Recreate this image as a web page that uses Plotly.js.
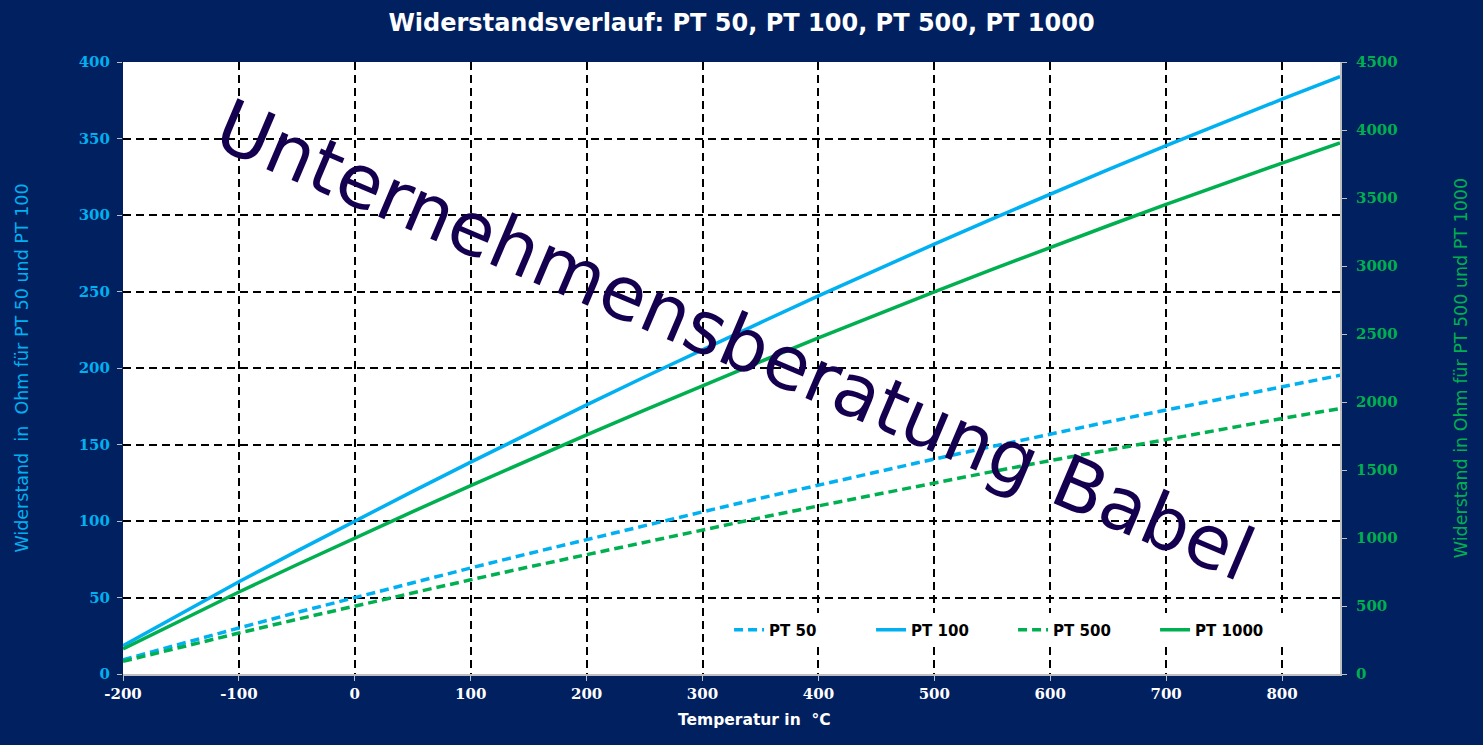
<!DOCTYPE html>
<html><head><meta charset="utf-8">
<script src="https://cdn.plot.ly/plotly-3.0.1.min.js"></script>
<style>html,body{margin:0;padding:0;background:#00205f;}#chart{width:1483px;height:745px;}</style>
</head><body><div id="chart"></div>
<script>
const temperatur = [-200,-150,-100,-50,0,50,100,150,200,250,300,350,400,450,500,550,600,650,700,750,800,850];
const pt50  = [9.3,19.9,30.1,40.2,50.0,59.7,69.3,78.7,87.9,97.1,106.0,114.9,123.5,132.1,140.5,148.7,156.9,164.8,172.6,180.3,187.9,195.2];
const pt100 = [18.5,39.7,60.3,80.3,100.0,119.4,138.5,157.3,175.9,194.1,212.1,229.7,247.1,264.2,281.0,297.5,313.7,329.6,345.3,360.6,375.7,390.5];
const pt500 = [93,199,301,402,500,597,693,787,879,971,1060,1149,1236,1321,1405,1488,1569,1648,1726,1803,1879,1952];
const pt1000 = [185,397,603,803,1000,1194,1385,1573,1759,1941,2121,2297,2471,2642,2810,2975,3137,3296,3453,3606,3757,3905];
const seriesNames = ['PT 50','PT 100','PT 500','PT 1000'];
const xTickVals = [-200,-100,0,100,200,300,400,500,600,700,800];
const xTickText = ['-200','-100','0','100','200','300','400','500','600','700','800'];

const cyan = '#00b0f0', green = '#00b050', bg = '#00205f';
const traces = [
  {x: temperatur, y: pt50, name: seriesNames[0], mode:'lines', line:{color:cyan, width:3.5, dash:'9px,5px'}, yaxis:'y'},
  {x: temperatur, y: pt100, name: seriesNames[1], mode:'lines', line:{color:cyan, width:3.5}, yaxis:'y'},
  {x: temperatur, y: pt500, name: seriesNames[2], mode:'lines', line:{color:green, width:3.5, dash:'9px,5px'}, yaxis:'y2'},
  {x: temperatur, y: pt1000, name: seriesNames[3], mode:'lines', line:{color:green, width:3.5}, yaxis:'y2'}
];
const tickFont = (c) => ({family:'DejaVu Serif, serif', size:15, color:c, weight:'bold'});
const layout = {
  width:1483, height:745,
  paper_bgcolor: bg, plot_bgcolor:'#ffffff',
  margin:{l:123, r:143, t:62, b:71},
  title:{text:'<b>Widerstandsverlauf: PT 50, PT 100, PT 500, PT 1000</b>', font:{family:'DejaVu Sans, sans-serif', size:24, color:'#ffffff'}, x:0.5, xanchor:'center', y:0.97, yanchor:'middle', yref:'container'},
  xaxis:{range:[-200,850], tickvals:xTickVals, ticktext:xTickText, showgrid:true, gridcolor:'#000000', gridwidth:2, griddash:'8px,5px',
    zeroline:false, showline:true, linecolor:'#bfbfbf', linewidth:2, ticks:'outside', ticklen:5, tickcolor:'#bfbfbf',
    tickfont: tickFont('#ffffff')},
  yaxis:{range:[0,400], dtick:50, showgrid:true, gridcolor:'#000000', gridwidth:2, griddash:'8px,5px',
    zeroline:false, showline:false, ticks:'outside', ticklen:5, tickcolor:'#bfbfbf', ticklabelstandoff:4,
    tickfont: tickFont(cyan),
    title:{text:'Widerstand  in  Ohm für PT 50 und PT 100', font:{family:'DejaVu Sans, sans-serif', size:17.5, color:cyan}, standoff:45}},
  yaxis2:{range:[0,4500], dtick:500, overlaying:'y', side:'right', showgrid:false, zeroline:false,
    showline:true, linecolor:'#bfbfbf', linewidth:2, ticks:'outside', ticklen:5, tickcolor:'#bfbfbf', ticklabelstandoff:6,
    tickfont: tickFont(green),
    title:{text:'Widerstand in Ohm für PT 500 und PT 1000', font:{family:'DejaVu Sans, sans-serif', size:17.5, color:green}, standoff:58}},
  legend:{orientation:'h', x:0.498, xanchor:'left', y:0.072, yanchor:'middle', bgcolor:'#ffffff',
    font:{family:'DejaVu Sans, sans-serif', size:15, color:'#000000', weight:'bold'},
    entrywidth:97, entrywidthmode:'pixels', itemwidth:30, tracegroupgap:0},
  showlegend:true,
  annotations:[
    {text:'Unternehmensberatung Babel', xref:'paper', yref:'paper', x:0.503, y:0.545, showarrow:false,
      textangle:23, font:{family:'DejaVu Sans, sans-serif', size:74, color:'#150050'}},
    {text:'<b>Temperatur in  °C</b>', xref:'paper', yref:'paper', x:0.519, y:-0.075, xanchor:'center', yanchor:'middle', showarrow:false,
      font:{family:'DejaVu Sans, sans-serif', size:15.5, color:'#ffffff'}}
  ]
};
Plotly.newPlot('chart', traces, layout, {staticPlot:true});
</script></body></html>
